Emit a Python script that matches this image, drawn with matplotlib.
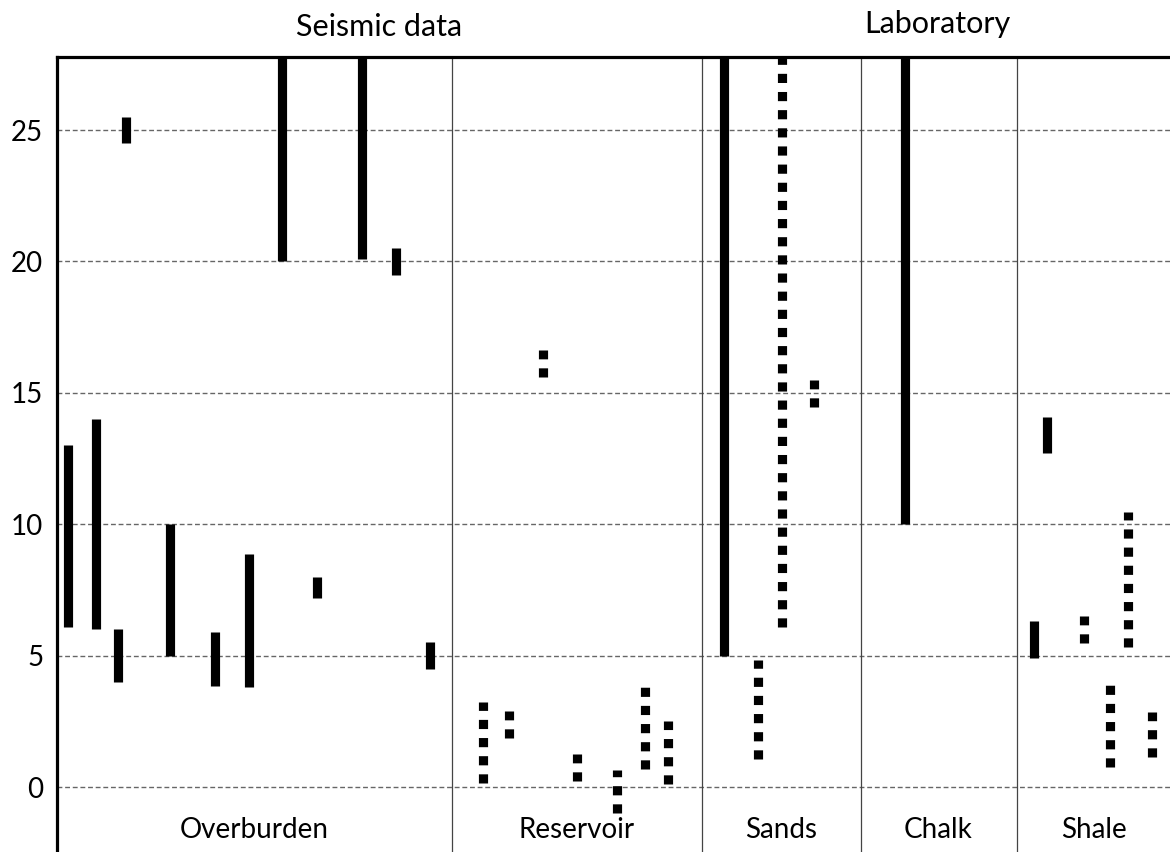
import matplotlib
matplotlib.use("Agg")
import matplotlib.pyplot as plt
import matplotlib.transforms as mtransforms

plt.rcParams['font.family'] = ['Lato', 'DejaVu Sans']

# ---- data -------------------------------------------------------------
group_names = ["Overburden", "Reservoir", "Sands", "Chalk", "Shale"]
group_edges = [0, 39.5, 64.5, 80.35, 95.95, 111.5]
super_groups = ["Seismic data", "Laboratory"]
super_spans = [(0, 2), (2, 5)]          # group index ranges

y_ticks = [0, 5, 10, 15, 20, 25]
TOP = 30  # ranges extending past the top of the plot

# each range: x position, low, high, style ('solid' or 'dotted')
range_x = [1.07, 3.88, 6.05, 6.85, 11.26, 15.8, 19.17, 22.54, 26.0, 30.46, 33.87, 37.3,
           42.64, 45.2, 48.6, 52.0, 55.95, 58.8, 61.06,
           66.7, 70.1, 72.5, 75.7,
           84.8,
           97.65, 98.97, 102.74, 105.25, 107.1, 109.54]
range_low = [6.1, 6.0, 4.0, 24.5, 5.0, 3.85, 3.8, 20.0, 7.2, 20.1, 19.5, 4.5,
             0.14, 1.88, 15.6, 0.24, -1.0, 0.7, 0.1,
             5.0, 1.07, 6.1, 14.47,
             10.0,
             4.9, 12.72, 5.47, 0.77, 5.32, 1.13]
range_high = [13.0, 14.0, 6.0, 25.5, 10.0, 5.9, 8.85, TOP, 8.0, TOP, 20.5, 5.5,
              3.25, 2.89, 16.63, 1.26, 0.65, 3.8, 2.5,
              TOP, 4.83, TOP, 15.49,
              TOP,
              6.3, 14.09, 6.5, 3.88, 10.45, 2.84]
range_style = ['solid'] * 12 + ['dotted'] * 7 + ['solid', 'dotted', 'dotted', 'dotted'] + \
              ['solid'] + ['solid', 'solid', 'dotted', 'dotted', 'dotted', 'dotted']

# ---- figure -----------------------------------------------------------
W, H = 1170, 852
fig = plt.figure(figsize=(W / 100, H / 100), dpi=100)
ax = fig.add_axes([57 / W, 0, (1172 - 57) / W, (852 - 56.5) / H])

ax.set_xlim(group_edges[0], group_edges[-1])
ax.set_ylim(-2.473, 27.80)

for s in ['right', 'bottom']:
    ax.spines[s].set_visible(False)
for s in ['top', 'left']:
    ax.spines[s].set_linewidth(2.3)
    ax.spines[s].set_color('black')

ax.set_xticks([])
ax.set_yticks(y_ticks)
ax.set_yticklabels([str(v) for v in y_ticks], fontsize=20)
ax.tick_params(axis='y', length=0, pad=10)

# gridlines
for v in y_ticks:
    ax.axhline(v, color='#666666', lw=1.0, dashes=(3.5, 2.0), zorder=1)

# compartment separators
for e in group_edges[1:-1]:
    ax.axvline(e, color='#444444', lw=0.9, zorder=1)

# ranges
LW = 6.6
for x, lo, hi, st in zip(range_x, range_low, range_high, range_style):
    if st == 'solid':
        ax.plot([x, x], [lo, hi], color='black', lw=LW, solid_capstyle='butt', zorder=3)
    else:
        ax.plot([x, x], [lo, hi], color='black', lw=LW, dashes=(1.0, 0.98),
                dash_capstyle='butt', zorder=3)

# group labels
for i, name in enumerate(group_names):
    cx = (group_edges[i] + group_edges[i + 1]) / 2
    ax.text(cx, -1.94, name, ha='center', va='baseline', fontsize=20)

# super-group titles
trans = mtransforms.blended_transform_factory(ax.transData, fig.transFigure)
title_base = [1 - 36 / H, 1 - 33 / H]
for (a, b), name, yb in zip(super_spans, super_groups, title_base):
    cx = (group_edges[a] + group_edges[b]) / 2
    ax.text(cx, yb, name, ha='center', va='baseline', fontsize=22,
            transform=trans, clip_on=False)

fig.savefig("out.png", dpi=100)
